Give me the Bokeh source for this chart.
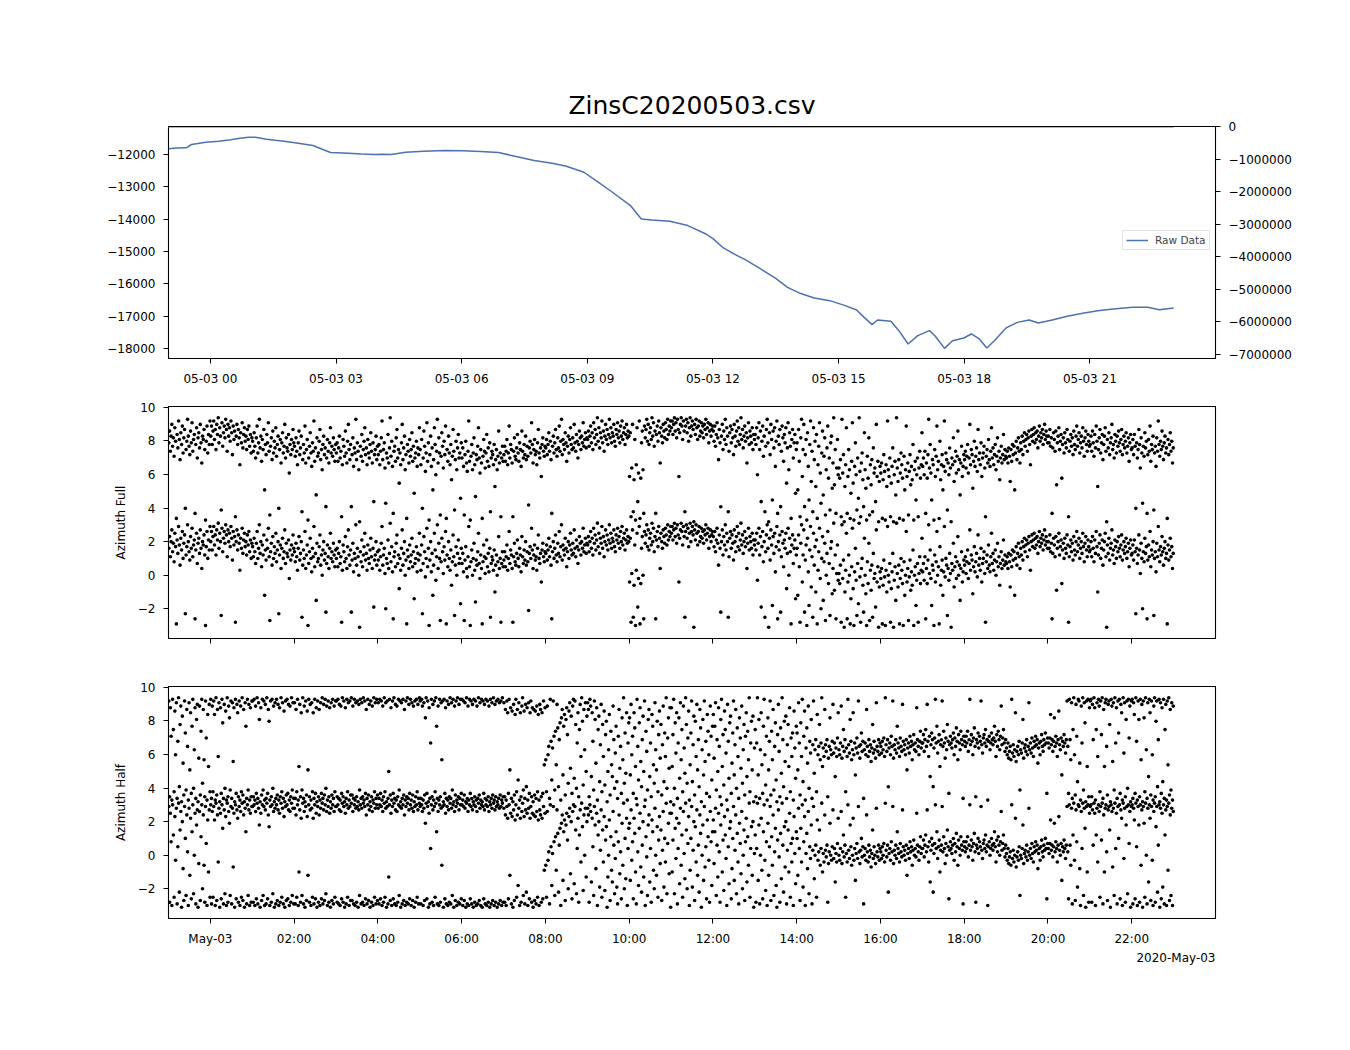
import math
from bokeh.plotting import figure
from bokeh.models import (ColumnDataSource, FixedTicker, Range1d, LinearAxis,
                          Legend, LegendItem, Title)
from bokeh.layouts import column
from bokeh.embed import file_html
from bokeh.resources import INLINE

# ---------------- data ----------------
DAY0_MS = 1588464000000   # 2020-05-03 00:00
HOUR_MS = 3600000

title_text = "ZinsC20200503.csv"
offset_text = "2020-May-03"

# Raw data (hours relative to 2020-05-03 00:00)
raw_hours = [-1.0, -0.8, -0.58, -0.45, -0.3, -0.11, 0.2, 0.49, 0.7, 0.91, 1.08, 1.34, 1.55,
             1.76, 2.1, 2.45, 2.7, 2.87, 3.3, 3.6, 3.9, 4.1, 4.32, 4.66, 5.09, 5.6, 6.03,
             6.45, 6.88, 7.3, 7.73, 8.16, 8.5, 8.92, 9.26, 9.6, 10.03, 10.29, 10.54, 10.97,
             11.4, 11.82, 12.0, 12.23, 12.5, 12.78, 13.14, 13.5, 13.78, 14.06, 14.42, 14.79,
             15.16, 15.43, 15.61, 15.8, 15.93, 16.25, 16.44, 16.66, 16.89, 17.17, 17.3, 17.53,
             17.72, 17.99, 18.17, 18.36, 18.54, 18.72, 19.0, 19.27, 19.55, 19.77, 20.1, 20.46,
             20.83, 21.19, 21.56, 22.02, 22.38, 22.66, 23.0]
raw_values = [-11823, -11800, -11792, -11690, -11660, -11620, -11590, -11545, -11500, -11464,
              -11464, -11526, -11560, -11588, -11650, -11720, -11854, -11938, -11960, -11985,
              -12000, -11990, -12000, -11930, -11898, -11876, -11886, -11907, -11938, -12062,
              -12186, -12269, -12362, -12548, -12857, -13167, -13579, -13992, -14022, -14065,
              -14198, -14450, -14600, -14870, -15075, -15260, -15540, -15830, -16108, -16282,
              -16437, -16520, -16675, -16808, -17037, -17263, -17118, -17161, -17449, -17861,
              -17604, -17449, -17604, -17997, -17759, -17675, -17551, -17706, -17985, -17759,
              -17365, -17192, -17118, -17211, -17118, -17006, -16913, -16830, -16777, -16726,
              -16726, -16799, -16746]

# second series on the right axis (close to zero)
right_hours = [-1.0, 23.0]
right_values = [-30000, -30000]

top_tick_hours = [0, 3, 6, 9, 12, 15, 18, 21]
top_tick_labels = ["05-03 00", "05-03 03", "05-03 06", "05-03 09",
                   "05-03 12", "05-03 15", "05-03 18", "05-03 21"]
bot_tick_hours = [0, 2, 4, 6, 8, 10, 12, 14, 16, 18, 20, 22]
bot_tick_labels = ["May-03", "02:00", "04:00", "06:00", "08:00", "10:00",
                   "12:00", "14:00", "16:00", "18:00", "20:00", "22:00"]
left_ticks = [-12000, -13000, -14000, -15000, -16000, -17000, -18000]
right_ticks = [0, -1000000, -2000000, -3000000, -4000000, -5000000, -6000000, -7000000]
az_ticks = [-2, 0, 2, 4, 6, 8, 10]

# Azimuth Full, one list per hour (first list = 23:00 of May-02)
full_h00 = [1.6, 2.3, 1.1, 2.0, 2.7, 1.4, 1.9, 0.8, 2.5, 1.7, -2.9, 2.1, 1.3, 2.9, 1.8, 0.6, 2.2, 1.5, 2.6, 1.0, 1.9, 2.4, -2.3, 1.2, 1.7, 3.0, 2.0, 1.4, 0.9, 2.3, 1.6, 2.8, 1.1, 1.8, 2.1, -2.6, 1.5, 2.5, 0.7, 1.9, 2.2, 1.3, 2.7, 1.6, 0.4, 2.0, 1.8, 2.4, 1.2, -3.0, 1.7, 2.6, 1.0, 2.1, 1.5, 2.9]
full_h01 = [2.0, 2.6, 1.5, 2.3, 2.9, 1.8, 2.4, 1.2, 2.7, 2.1, 3.1, 1.6, 2.5, 2.0, -2.4, 2.8, 1.4, 2.2, 2.6, 1.9, 3.0, 2.4, 1.1, 2.7, 2.0, 2.5, 1.7, 2.9, 2.2, 0.9, 2.6, 1.8, 2.3, -2.8, 2.0, 2.7, 1.5, 2.4, 1.9, 0.3, 2.2, 1.6, 2.8, 1.3, 2.1, 2.5, 1.7, 2.0, 1.2, 2.4, 1.8, 2.6, 1.4, 2.1, 1.0, 1.9]
full_h02 = [1.7, 1.1, 2.2, 1.4, 0.7, 1.9, 2.6, 1.0, 1.6, 3.0, 1.3, 2.0, 0.5, 1.8, 1.2, 2.4, -1.2, 1.5, 0.9, 2.1, 1.6, 2.8, 1.1, -2.7, 1.4, 1.9, 0.6, 2.3, 1.0, 1.7, 1.3, 2.5, 0.8, 1.5, 2.0, -2.3, 1.2, 1.8, 0.4, 1.6, 2.2, 1.0, 1.4, 2.7, 0.7, 1.9, 1.3, 1.1, 2.1, -0.2, 1.5, 0.9, 1.8, 1.2, 2.4, 1.6]
full_h03 = [1.4, 0.8, 1.9, 1.1, 0.3, 1.6, 2.3, 0.9, 1.3, 2.0, -2.5, 0.6, 1.5, 1.0, 2.6, 0.4, 1.2, 1.8, -3.0, 0.7, 1.4, 2.2, 1.0, 0.2, 1.6, 1.1, 2.9, 0.5, 1.3, -1.5, 1.9, 0.8, 1.0, 1.7, 2.4, 0.6, 1.2, 0.0, 1.5, 2.0, 0.9, 1.3, -2.2, 0.7, 1.8, 1.1, 0.4, 1.6, 2.5, 1.0, 1.4, 0.8, 1.9, 1.2, 0.5, 1.5]
full_h04 = [1.0, 1.6, 0.5, 1.3, 2.0, 0.7, 1.1, -2.8, 0.3, 1.8, 1.4, 0.8, 2.3, 1.0, 0.4, 1.7, 2.7, 1.2, 0.6, 1.5, -2.2, 0.9, 1.9, 0.2, 1.3, 1.0, 3.0, 0.6, 1.6, 1.1, 0.0, -3.1, 1.4, 0.8, 2.1, 0.5, 1.2, 1.7, 2.5, 0.9, 1.3, 0.3, 1.8, 1.0, 0.7, 1.5, 2.2, 1.1, 0.4, 1.6, -1.9, 0.9, 1.2, 2.0, 0.6, 1.4]
full_h05 = [0.9, 1.5, 0.3, 1.1, 1.9, 2.9, 0.6, 1.2, 1.6, 0.1, -2.0, 1.0, 0.7, 2.1, 0.4, 1.3, 3.1, 0.8, 1.7, 0.2, -2.6, 1.1, 1.4, 0.5, 1.9, 2.4, 0.7, 1.2, -0.8, 1.0, 0.3, 1.6, 2.7, 0.6, 1.3, 2.0, 0.0, 0.9, -2.9, 1.5, 1.1, 0.4, 1.8, 0.8, 1.2, 2.2, 0.5, 1.4, -1.4, 0.7, 1.0, 1.7, 0.2, 1.3, 0.9, 2.5]
full_h06 = [1.2, 0.3, 1.8, -2.3, 0.7, 2.3, 1.4, -0.1, 1.0, 2.8, 0.5, 1.6, -3.0, 0.9, 2.0, 0.2, 1.3, -1.2, 0.6, 2.5, 1.5, -0.3, 1.1, 3.0, 0.4, 1.9, 1.0, -2.7, 0.8, 2.2, 1.4, 0.1, 1.7, 0.9, 2.6, -2.9, 1.2, 0.5, 2.0, 1.0, 0.3, 1.5, -0.6, 0.8, 2.4, 1.1, -2.4, 0.6, 1.7, 0.0, 1.3, 2.1, 0.7, 1.0, -1.7, 1.6]
full_h07 = [0.7, 1.3, 0.2, -2.7, 0.9, 1.7, 0.4, -0.1, 1.1, 2.9, 0.5, -3.0, 0.8, 1.5, 0.0, 1.0, 1.9, 0.3, -1.6, 0.9, 0.6, 1.4, 2.5, 0.7, -0.2, 1.2, 0.4, -2.9, 0.8, 1.8, 1.1, 0.1, 1.0, 2.1, 0.5, 1.3, 0.2, 1.6, -2.5, 0.7, 1.1, 0.9, 0.3, 1.5, -1.0, 0.6, 1.2, 0.0, 0.8, 2.3, 0.4, 1.0, -2.8, 0.7, 1.4, 0.5]
full_h08 = [0.9, 1.4, 0.5, 1.1, 1.8, 0.3, 1.0, 2.6, 0.7, 1.5, 1.2, 0.4, -2.8, 1.1, 1.9, 0.8, 0.6, 1.3, 2.1, 1.0, 0.5, 1.6, 1.2, 0.2, 2.3, 1.1, 0.7, 1.5, 0.9, 2.0, 0.6, 1.4, 0.8, -2.1, 1.3, 1.7, 1.0, 2.8, 1.5, 0.4, 1.2, 1.8, 0.9, 1.1, 0.3, 1.6, 2.4, 1.0, 0.7, 1.3, -0.4, 1.5, 1.9, 1.1, 0.8, 1.4]
full_h09 = [1.3, 1.8, 0.9, 1.5, 2.2, 1.1, 1.7, 0.6, -2.6, 1.4, 2.0, 1.0, 1.6, 2.4, 1.2, 0.8, 1.9, 1.3, 2.6, 1.1, 1.7, 3.0, 0.9, 1.8, 1.5, 1.2, 2.2, 1.6, 0.5, 1.4, 2.0, 1.0, 1.8, 2.5, 1.5, 1.2, 1.9, 1.3, 2.7, 1.6, 1.1, 2.1, 1.7, 0.7, 1.5, 2.3, 1.9, 1.2, 2.0, 1.6, 2.8, 1.4, 1.8, 2.2, 1.3, 1.9]
full_h10 = [1.8, 2.3, 1.4, 2.0, 2.6, 1.6, 2.2, 1.2, 2.8, 1.9, 2.4, 1.5, 2.1, 3.1, 1.7, 2.5, 1.3, 2.2, 1.9, 2.9, 1.6, 2.3, 1.1, 2.0, 2.7, 1.8, 2.4, 1.5, 2.1, 3.0, 1.9, 2.5, 1.6, 2.2, 2.0, 2.7, 1.7, 1.4, 2.4, 2.1, 2.8, 1.9, 2.3, 1.6, 2.6, 2.0, 2.9, 1.8, 2.2, 2.5, 1.5, 2.1, 2.7, 1.9, 2.3, 2.0]
full_h11 = [-0.4, 2.2, -2.8, 0.1, 2.7, -2.5, -0.6, 1.8, -3.0, 0.3, 2.5, -1.9, -0.2, 2.9, -2.9, -0.5, 1.6, 2.3, 0.0, -2.6, 2.6, 1.9, 2.4, 3.0, 1.7, 2.7, 1.5, 2.2, 2.5, 1.8, 3.1, 2.0, 2.8, 1.4, 2.3, -2.6, 2.1, 2.6, 1.7, 2.9, 2.2, 0.4, 2.5, 2.0, 1.6, 2.7, 2.3, 1.9, 2.8, 2.4, 1.8, 3.0, 2.1, 2.6, 2.3, 2.9]
full_h12 = [2.5, 2.9, 2.1, 2.7, 3.1, 2.3, 2.8, 1.9, 3.0, 2.4, -0.4, 2.2, 2.7, 3.1, 2.6, 1.8, 2.9, 2.3, -2.5, 2.6, 3.0, 2.2, 2.8, 1.7, 2.5, 3.1, 2.0, 2.6, 2.9, 2.4, -3.1, 2.7, 2.1, 3.0, 2.5, 1.8, 2.6, 2.9, 2.0, 2.3, 2.8, 2.2, 2.6, 1.9, 2.7, 2.4, 3.0, 2.1, 2.5, 2.8, 1.6, 2.3, 2.7, 2.0, 2.4, 2.6]
full_h13 = [2.3, 1.7, 2.6, 1.4, 2.1, 2.8, 1.9, 0.6, 2.4, 1.6, -2.2, 2.0, 2.7, 1.2, 2.3, 1.8, 3.0, 1.5, 2.5, 2.0, -2.5, 1.1, 2.2, 2.6, 1.6, 2.4, 1.9, 0.9, 2.7, 2.0, 1.4, 2.3, 2.9, 1.7, 2.5, 1.5, 2.1, 3.1, 1.8, 2.4, 1.3, 2.0, 2.6, 1.7, 2.2, 0.4, 1.9, 2.8, 1.5, 2.3, 2.0, 1.6, 2.5, 1.2, 2.1, 1.8]
full_h14 = [2.1, 1.5, 2.5, -0.3, 1.9, 2.8, 1.2, 2.3, -1.9, 1.7, 2.6, 0.8, 2.0, -2.5, 1.4, 2.4, 3.0, 1.6, -3.1, 2.2, 0.9, 2.7, 1.8, -1.8, 2.3, 1.3, 2.5, 0.2, 1.7, 2.9, -2.6, 2.0, 1.5, 2.4, -2.2, 1.1, 2.6, 1.9, 0.5, 2.1, 1.6, 2.5, -0.8, 1.3, 2.8, 0.0, 2.2, 1.4, -2.9, 1.8, 2.4, 0.7, 1.6, 2.1, -1.4, 1.2]
full_h15 = [1.6, -1.2, 2.4, 0.5, -2.8, 1.9, 3.0, -0.4, 1.2, 2.7, -2.2, 0.9, 1.8, -3.0, 2.2, 0.2, -1.8, 1.5, 2.9, -0.7, 1.1, -2.5, 2.5, 0.6, 1.7, -1.0, 2.1, -2.9, 0.3, 1.4, 2.8, -0.2, -2.0, 1.0, 2.3, -1.5, 0.8, 1.9, -2.7, 0.0, 1.3, 2.6, -0.5, 0.7, -2.4, 1.6, 2.0, -1.1, 0.4, 3.1, -0.9, 1.2, -2.6, 0.1, 1.8, -0.3]
full_h16 = [0.1, -0.5, 0.6, -2.8, 3.0, -0.2, 0.9, -3.1, -1.0, 0.3, 2.5, -2.6, -0.4, 1.2, 0.0, -2.9, -1.4, 0.5, 2.8, -0.8, -3.0, 0.2, 1.6, -0.3, -2.4, 0.7, -1.7, 3.1, -0.1, -2.8, 0.4, 1.0, -0.6, -2.2, 2.2, 0.0, -1.1, -3.0, 0.8, -0.5, 1.9, -2.7, 0.3, -0.9, 0.6, -2.5, 1.3, -0.2, 0.1, -1.9, 2.7, -0.4, 0.5, -3.1, -0.7, 0.2]
full_h17 = [-0.2, 0.4, -2.9, -0.6, 0.9, -0.1, -3.0, 0.3, -1.0, 2.9, 0.0, -0.4, 0.7, -2.8, -0.8, 0.2, 1.3, -3.1, -0.3, 0.5, -1.5, 3.1, 0.1, -0.7, 0.6, -2.9, -0.2, 1.0, 0.3, -0.5, -3.0, 0.8, -1.2, 0.0, 2.6, -0.4, 0.4, -2.7, -0.1, 0.9, -0.9, 0.2, -0.6, 1.5, -3.0, 0.0, 0.5, -1.8, -0.3, 0.7, -2.8, 0.1, 1.1, -0.5, 0.3, 2.2]
full_h18 = [0.2, 0.7, -0.3, 1.1, -2.6, 0.4, -0.5, 0.9, 3.0, 0.1, 1.5, -0.2, -1.8, 0.6, 0.3, -3.0, 1.2, -0.4, 0.8, 2.6, 0.0, 0.5, -2.9, 1.7, -0.6, 0.3, 0.9, -1.2, 0.2, 2.9, -0.1, 1.0, 0.6, -2.4, 0.4, -0.3, 1.3, 0.1, -3.1, 0.7, 0.3, 1.9, -0.7, 0.5, 1.1, -0.2, 0.8, 2.3, 0.0, 0.6, -1.5, 0.4, 1.4, -0.4, 0.2, 0.9]
full_h19 = [0.6, 1.1, 0.1, 0.8, 1.5, -0.2, 0.7, 2.7, 0.3, 1.2, 0.9, -1.1, 0.5, 1.7, 0.2, 0.8, 1.3, -0.1, 2.4, 0.6, 1.0, 0.3, 1.6, -0.4, 0.7, 1.0, 1.4, 0.1, -2.8, 0.8, 1.2, 0.4, 1.8, 0.6, 0.2, 1.1, 2.5, 0.7, 1.3, 0.3, 0.9, 1.5, 0.0, 0.8, 1.9, 0.5, 1.1, -0.6, 0.7, 1.4, 0.4, 0.9, 2.1, 0.6, 1.2, 0.8]
full_h20 = [0.7, 1.1, 0.4, 1.3, 0.8, -0.7, 1.2, 0.5, 1.5, 0.9, 1.4, -1.2, 1.0, 1.7, 0.6, 1.3, 1.9, 1.1, 0.4, 1.6, 1.2, 2.0, 0.9, 1.7, 2.2, 1.4, 1.8, 2.1, 1.1, 1.9, 2.3, 1.5, 0.3, 2.0, 2.4, 1.7, 2.1, 2.5, 1.6, 2.2, 1.8, 2.3, 1.3, 2.0, 2.6, 1.7, 2.2, 1.9, 2.4, 1.5, 2.1, 2.7, 1.8, 2.3, 2.0, 1.6]
full_h21 = [2.0, 1.6, 2.4, 1.4, 1.9, -2.6, 1.3, 2.2, 1.8, 1.1, 2.3, -0.9, 1.6, 2.0, 2.5, 1.2, 1.7, 2.1, -0.5, 1.5, 1.9, 1.0, 2.2, 1.6, 1.3, 2.4, 1.8, -2.8, 1.1, 1.7, 2.1, 1.4, 1.9, 0.9, 2.3, 1.5, 1.2, 2.0, 2.6, 1.4, 1.8, 2.2, 1.0, 1.6, 2.0, 1.3, 2.5, 1.7, 0.8, 1.9, 2.3, 1.5, 1.1, 2.1, 1.7, 1.4]
full_h22 = [1.5, 2.0, 1.1, 2.3, 1.6, 0.8, 2.1, 1.3, 2.6, 1.7, -1.0, 1.2, 1.9, 2.4, 1.0, 1.6, 2.1, 0.6, 1.5, 2.0, 2.5, 1.1, -3.1, 1.8, 1.3, 2.2, 0.9, 1.6, 1.9, 2.7, 1.2, 1.5, 0.7, 2.1, 1.7, 1.0, 2.0, 1.4, 2.3, 1.6, 1.1, 1.8, 2.4, 0.9, 1.5, 2.0, 1.3, 1.7, 2.2, 1.0, 1.4, 1.9, 0.5, 1.6, 2.1, 1.2]
full_h23 = [1.3, 1.8, 0.9, 2.1, 1.4, -2.3, 1.6, 0.7, 1.2, 2.4, 1.5, 0.1, 1.9, 1.0, -2.0, 1.4, 0.8, 2.2, 1.3, 1.7, -2.6, 0.9, 1.8, 1.1, 2.6, 0.5, 1.5, 1.2, 2.0, -2.4, 1.0, 1.4, 0.2, 1.9, 1.1, 2.9, 1.5, 0.8, 1.7, 1.2, 2.3, 1.4, 0.6, 1.6, 2.0, 1.0, 1.3, -2.9, 1.8, 0.9, 1.5, 2.2, 1.1, 1.7, 0.4, 1.3]

# Azimuth Half, one list per hour
half_h00 = [2.9, -2.8, 2.5, 0.8, -3.0, 3.0, 1.2, -2.5, 2.3, -0.3, 2.8, -2.9, 0.5, 3.1, -2.2, 1.5, 2.6, -3.1, 2.0, -0.8, -2.7, 2.9, 1.0, -2.4, 2.4, 0.2, -3.0, 2.8, -1.2, 2.2, -2.6, 1.4, 3.0, -2.3, 0.0, 2.5, -2.9, 1.8, 2.7, -3.1, -0.5, 2.6, -2.7, 1.1, 3.0, -2.0, 2.4, -0.6, -2.8, 2.9, 0.7, -3.0, 2.1, -1.0, 2.7, -2.5]
half_h01 = [3.0, -2.9, 2.6, -2.5, 2.9, 2.1, -3.0, 3.1, -2.7, 2.4, -0.4, 2.8, -3.1, 2.5, -2.6, 3.0, 1.6, -2.9, 2.7, -2.3, 2.3, -3.0, 3.1, -2.8, 2.6, 1.9, -2.4, 2.9, -2.9, 2.8, -0.7, 2.5, -3.1, 3.0, -2.6, 2.7, 2.2, -2.8, 2.9, -3.0, 2.6, -2.5, 3.1, -2.7, 2.4, -3.1, 2.8, 1.4, -2.9, 3.0, -2.4, 2.7, -3.0, 2.5, -2.8, 2.9]
half_h02 = [2.9, -2.8, 3.0, -3.0, 2.6, -2.6, 3.1, -2.9, 2.8, 1.8, -3.1, 2.5, -2.7, 3.0, -2.4, 2.9, -3.0, 2.7, -2.9, 3.1, -2.6, 2.4, 1.7, -3.0, 2.9, -2.8, 3.0, -2.3, 2.6, -3.1, 2.8, -2.9, 3.0, -2.7, 2.7, -3.0, 2.5, -2.8, 3.1, -2.5, 2.8, -2.9, 2.3, -3.1, 2.9, -2.7, 3.0, -2.6, 2.7, -3.0, 2.6, -2.8, 3.1, -2.4, 2.8, -2.9]
half_h03 = [2.8, -2.9, 2.4, -2.5, 3.0, -3.0, -1.0, 2.7, -2.8, 2.2, -2.4, 3.1, -2.9, 2.6, -3.1, 2.9, -2.7, 2.3, -1.2, 3.0, -2.8, 2.7, -3.0, 2.8, -2.5, 2.2, -2.9, 3.0, -2.6, 2.5, -3.1, 2.9, -2.8, 2.4, -3.0, 2.8, -2.6, 3.1, -2.9, 2.7, -2.7, 3.0, -2.3, 2.6, -3.0, 2.9, -2.8, 2.5, -3.1, 2.8, -2.7, 3.0, -2.9, 2.6, -2.5, 2.9]
half_h04 = [2.9, -2.8, 3.0, -2.9, 2.7, -3.0, 2.6, -2.6, 3.1, -2.8, 2.9, -3.1, 2.5, -2.9, 3.0, -2.5, 2.8, -3.0, 2.9, -2.7, 3.1, -2.7, 2.6, -2.9, 3.0, -3.0, 2.8, -2.8, 2.9, -3.1, 2.7, -2.4, 3.0, -2.9, 2.8, -2.8, 3.1, -3.0, 2.9, -2.6, 2.4, -2.9, 3.0, -2.7, 2.7, -3.1, 2.9, -2.8, 2.6, -3.0, 3.1, -2.5, 2.8, -2.9, 3.0, -2.7]
half_h05 = [2.8, -2.9, 3.0, -2.6, 2.9, -3.0, 2.6, -2.8, 3.1, -2.5, 2.8, -3.1, 2.9, -2.9, -1.3, 3.0, -2.7, 2.5, -3.0, 2.9, -2.6, 3.1, -2.9, 2.7, -3.0, 2.6, -2.8, 3.0, -2.4, 2.9, -3.1, 2.8, -2.9, 3.0, -2.7, 2.4, -3.0, 2.9, -2.8, 3.1, -2.9, 2.7, -2.6, 3.0, -3.0, 2.8, -2.7, 2.6, -3.1, 2.9, -2.8, 3.0, -2.5, 2.7, -2.9, 3.1]
half_h06 = [2.9, -2.9, 3.0, 2.6, -3.0, 2.8, -2.7, 1.9, 3.1, -2.6, 2.9, -3.1, 2.5, -2.9, 0.4, 3.0, -2.8, 2.7, -3.0, 2.9, -2.5, 3.1, 1.4, -2.9, 2.6, -3.0, 3.0, -2.8, 2.8, -0.6, 2.9, -3.1, 3.0, -2.6, 2.5, -2.9, 2.9, -3.0, 2.7, -2.8, 3.1, -2.9, 2.8, -2.4, 3.0, -3.1, 2.6, -2.7, 2.9, -3.0, 3.1, -2.8, 2.7, -2.9, 3.0, -2.6]
half_h07 = [3.0, -3.0, 2.9, -2.7, 2.8, -3.1, 3.1, -2.9, 2.6, -3.0, 3.0, -2.6, 2.9, -2.9, 2.7, -3.1, 3.0, -2.8, 2.9, -3.0, 2.6, -2.9, 3.1, -2.7, 2.8, -3.0, 3.0, -3.1, 2.9, -2.6, 2.7, -2.9, 3.0, -3.0, 2.9, -2.8, 2.6, -3.1, 3.0, -2.9, 2.8, -2.7, 3.1, -3.0, 2.7, -2.8, 2.9, -3.1, 3.0, -2.9, 2.8, -2.7, 2.9, -3.0, 3.1, -2.8]
half_h08 = [2.8, -2.8, 2.4, -3.0, 2.9, 2.2, -2.6, 3.0, -1.2, 2.5, -2.9, 2.3, -3.1, 2.7, -2.7, 2.1, 3.0, -2.5, 2.4, -1.8, 2.8, -3.0, 2.2, -2.8, 2.6, 3.1, -2.4, 2.3, -2.9, 2.7, -2.2, 2.5, -3.0, 2.8, -2.6, 2.2, 2.9, -2.8, 2.5, -3.1, 2.4, -2.7, 2.3, -2.9, 2.6, -2.5, 2.1, -3.0, 2.7, 2.4, -2.8, 2.2, -2.6, 2.9, -0.9, 2.5]
half_h09 = [-0.6, -2.5, 2.6, -0.3, 0.2, -2.9, 3.0, 0.5, -1.8, 0.1, 2.9, 0.8, -2.4, 1.1, -0.9, 2.7, 1.3, -2.2, 0.6, 1.6, -3.0, 1.9, 2.4, -1.5, 1.4, 2.1, -2.7, 1.8, 2.5, 0.9, -2.0, 2.3, 2.8, -1.1, 2.0, -2.6, 2.6, 3.0, -1.7, 2.9, 1.5, -2.3, 0.4, 2.2, -2.8, 1.2, 2.7, -0.4, 3.1, 1.7, -2.1, 2.4, 0.0, 2.8, -1.3, 2.0]
half_h10 = [2.8, 2.4, -2.8, 3.0, 2.6, -1.6, 2.2, 0.5, -2.4, 2.9, 1.8, -0.8, 2.5, -3.0, 1.2, 2.0, -1.9, 0.3, 2.7, -2.5, 1.5, -0.4, 2.3, -2.1, 0.9, 1.7, -3.1, -1.3, 0.0, 2.1, -2.7, 1.1, -0.9, -1.6, 2.6, 0.6, -2.3, -0.2, 1.4, -1.9, -2.9, 0.8, 2.4, -1.1, 0.2, -2.6, 1.9, -0.6, 3.1, -2.0, 1.0, -1.4, 2.2, -3.0, 0.4, 1.6]
half_h11 = [1.9, -1.5, 2.7, -0.3, 0.8, -2.6, 2.2, 1.3, -1.0, -2.9, 3.0, 0.2, -1.8, 1.6, 2.5, -0.7, -2.2, 0.6, 2.0, -1.3, 2.9, -3.0, 1.1, -0.1, -2.4, 1.8, 2.4, -1.6, 0.4, -2.8, 2.1, 1.4, -0.9, -2.0, 2.8, 0.0, -1.2, 1.7, -2.5, 0.9, 2.3, -0.5, 1.5, -2.7, 0.3, 2.6, -1.9, 1.0, -0.4, 3.1, -2.3, 0.7, 1.9, -1.1, 2.5, -3.1]
half_h12 = [2.5, -1.0, 0.9, 3.0, -2.3, 1.6, -0.2, 2.2, -2.9, 0.4, 1.9, -1.7, 2.8, -0.6, 1.2, -2.5, 2.6, 0.1, -1.4, 3.1, 1.5, -2.0, 0.7, 2.3, -3.0, -0.9, 1.0, 2.9, -1.9, 0.3, 2.0, -2.7, 1.7, -0.4, 2.7, -1.2, 0.6, -2.2, 2.4, 1.3, -3.1, 0.0, 1.8, -1.5, 2.9, -0.7, 0.5, -2.6, 2.1, 1.1, -0.3, -2.8, 2.6, 0.8, -1.8, 1.4]
half_h13 = [2.1, -0.5, 1.4, 2.8, -2.4, 0.6, -1.3, 2.5, 0.2, -2.8, 1.8, 3.0, -1.0, 0.9, -2.1, 2.3, 1.2, -0.2, -3.0, 2.7, 0.5, -1.7, 1.6, 2.0, -2.6, -0.8, 1.0, 2.9, -1.5, 0.3, 2.4, -2.3, 1.3, -0.4, -2.9, 1.9, 0.7, -1.1, 2.6, -2.0, 0.0, 1.5, -2.7, 0.8, 2.2, -1.6, 1.1, -0.6, 3.1, -2.5, 0.4, 1.7, -1.2, 2.0, -3.1, 0.1]
half_h14 = [1.2, -2.8, 0.4, 3.1, -1.5, 1.8, -2.9, 0.0, 2.2, -0.9, -2.6, 1.4, 3.0, -0.3, -2.1, 0.8, -3.0, 1.9, -1.2, 0.5, 2.9, -2.7, 1.1, -0.6, 2.4, -2.4, 0.2, 1.6, -1.8, -3.1, 0.9, 2.7, -0.1, -2.8, 1.3, -1.4, 3.1, 0.6, -2.2, 1.7, -0.7, 2.0, -2.9, 0.3, 1.5, -1.0, 2.5, -2.5, 0.7, -0.4, 1.0, -3.0, 2.3, 0.1, -1.7, 1.4]
half_h15 = [1.0, -1.2, 2.8, 0.4, -2.7, 1.6, -0.4, 3.0, -1.9, 0.8, 2.3, -3.0, 0.1, 1.3, -0.8, 2.6, -2.3, 0.5, -0.2, 1.8, -2.9, 0.3, 2.9, -1.4, 0.0, 0.6, -2.5, 2.1, -0.3, 0.2, 1.5, -0.6, 0.4, 3.1, -1.0, 0.1, -0.4, 2.4, 0.3, -0.1, 0.6, -2.8, -0.5, 0.2, 1.9, 0.0, -0.3, 0.5, 2.7, -0.2, 0.4, -1.6, 0.1, -0.4, 0.7, 2.2]
half_h16 = [0.0, -0.3, 0.4, 2.6, -0.5, 0.2, 1.2, -0.1, 0.6, -2.5, 0.1, -0.4, 3.0, 0.3, -0.2, 1.8, 0.5, -0.6, 0.0, 2.2, -0.3, 0.4, -1.5, 0.1, 0.7, -0.2, 2.9, 0.2, -0.5, 0.3, 1.0, -0.1, 0.5, -2.9, 0.0, 0.4, -0.3, 2.4, 0.2, -0.4, 0.6, -0.1, 0.3, -0.7, 0.1, 1.5, -0.2, 0.5, 0.0, -0.5, 2.8, 0.2, -0.1, 0.6, -0.3, 0.4]
half_h17 = [0.2, -0.2, 0.5, 0.0, 0.7, -0.4, 3.1, 0.3, -0.1, 0.6, -2.2, 0.1, 0.4, -0.3, 0.8, 0.2, 2.9, -0.5, 0.3, 0.0, 0.6, -0.2, 1.4, 0.4, 0.1, -0.4, 0.7, 0.2, -0.1, 2.7, 0.5, 0.0, 0.3, -0.3, 0.6, -1.2, 0.1, 0.4, -0.2, 0.8, 0.2, 0.5, -0.6, 0.3, 0.9, 0.0, 0.4, -0.1, 2.5, 0.6, 0.2, -0.3, 0.5, 1.1, 0.1, 0.4]
half_h18 = [0.4, 0.9, -0.1, 0.6, 1.2, 0.2, 2.7, 0.5, -0.4, 0.8, -1.6, 0.3, 1.0, 0.6, -2.2, 0.1, 0.7, 3.0, 0.4, 1.4, -0.2, 0.5, 0.9, -1.0, 0.3, 0.6, 2.9, 0.2, 1.1, 0.4, -0.5, 0.7, 0.0, 1.5, 0.5, -2.6, 0.3, 0.8, 0.4, 0.1, 0.6, 1.0, -0.3, 0.7, 0.2, 1.3, 0.5, -0.6, 0.9, 0.4, 0.0, 1.1, 0.6, 0.3, -2.9, 0.8]
half_h19 = [0.5, 0.2, 0.8, 0.4, 1.1, -0.1, 0.6, 3.0, 0.3, 0.9, 0.5, -0.3, 0.7, 1.3, 0.2, -2.8, 0.6, 0.4, 1.0, 0.1, 0.8, 0.5, 2.9, 0.3, -0.2, 0.7, 0.9, 0.4, 1.2, 0.2, 0.6, -3.0, 0.5, 0.8, 0.0, 0.4, 1.0, 0.6, 0.3, 0.7, 1.4, 0.5, -0.4, 0.9, 0.2, 1.1, 0.6, 0.0, 0.8, 2.6, 0.3, 0.7, 1.2, 0.4, -0.1, 0.6]
half_h20 = [0.1, -0.3, 0.4, -0.5, -0.1, 0.2, -0.6, 3.0, -0.2, 0.3, -0.4, 0.0, 2.2, -0.7, -0.1, 0.2, -0.3, 0.5, -2.4, 0.0, -0.2, 0.4, 1.8, -0.5, 0.1, 0.3, -0.1, 0.6, -0.3, 0.2, 2.8, 0.0, 0.4, -0.2, 0.7, 0.1, -0.4, 0.5, 0.2, 0.8, 0.3, 0.6, -0.8, 0.1, 0.4, -0.3, 0.5, 0.9, 0.2, -0.1, 0.6, 0.3, 1.0, 0.4, -2.6, 0.7]
half_h21 = [0.4, 0.1, 0.7, 2.1, 0.3, 0.6, -0.1, 0.5, 1.9, 0.2, 0.8, 0.4, -0.4, 0.6, 2.3, 0.3, 0.0, 0.7, -1.5, 0.5, 0.2, 0.9, 0.4, -0.2, 0.6, 2.9, 0.2, -2.6, 3.0, 0.6, -0.6, 2.8, -2.9, 1.2, 3.1, -0.3, -2.7, 2.7, 0.8, -1.9, 3.0, 2.9, -0.8, -3.0, 2.6, 0.4, 3.1, -2.4, 2.8, 1.6, -3.1, 2.9, -1.0, 3.0, -2.8, 2.5]
half_h22 = [2.9, 3.0, -2.8, 2.7, 0.6, 3.1, 2.5, -3.0, 1.2, 2.8, -0.4, 3.0, 2.6, -2.5, 2.9, 0.9, 3.1, -2.9, 2.4, -1.0, 2.8, 3.0, 0.2, -2.7, 2.7, 2.9, 1.5, -3.1, 3.0, 2.6, -0.7, 2.8, -2.4, 3.1, 0.4, 2.5, -2.9, 2.9, 1.0, 3.0, -2.6, 2.7, 2.2, -3.0, 3.1, -0.2, 2.8, -2.8, 1.8, 2.9, -2.3, 3.0, 0.7, 2.6, -3.1, 2.9]
half_h23 = [3.0, -2.9, 2.8, 2.1, -2.6, 3.1, 0.5, -3.0, 2.9, 1.8, -2.8, 3.0, -0.6, 2.7, -3.1, 2.9, 1.9, -2.5, 3.1, 0.0, -2.9, 2.8, -1.6, 3.0, 2.2, -2.7, 2.9, -0.3, -3.0, 2.6, 3.1, -2.8, 1.7, 2.9, -2.2, 0.6, 3.0, -3.1, 2.8, -2.6, 2.5, -1.9, 3.0, -2.9, 1.2, 2.7, -3.0, 2.9, -0.9, 3.1, -2.7, 2.4, -2.4, 2.8, -3.0, 2.6]

full_hours = [full_h00, full_h01, full_h02, full_h03, full_h04, full_h05, full_h06, full_h07,
              full_h08, full_h09, full_h10, full_h11, full_h12, full_h13, full_h14, full_h15,
              full_h16, full_h17, full_h18, full_h19, full_h20, full_h21, full_h22, full_h23]
half_hours = [half_h00, half_h01, half_h02, half_h03, half_h04, half_h05, half_h06, half_h07,
              half_h08, half_h09, half_h10, half_h11, half_h12, half_h13, half_h14, half_h15,
              half_h16, half_h17, half_h18, half_h19, half_h20, half_h21, half_h22, half_h23]

# ---------------- helpers ----------------
FONT = "DejaVu Sans"
FS = "12px"
LINE_COLOR = "#4c72b0"


def ms(h):
    return DAY0_MS + h * HOUR_MS


def minus(v):
    return str(v).replace("-", "\u2212")


def build_scatter(hour_lists):
    xs, ys = [], []
    for k, vals in enumerate(hour_lists):
        n = len(vals)
        for i, v in enumerate(vals):
            t = ms(k - 1 + (i + 0.5) / n)
            xs.append(t)
            ys.append(v)
            xs.append(t)
            ys.append(v + 2 * math.pi)
    return ColumnDataSource(dict(x=xs, y=ys))


def style_fig(p):
    p.outline_line_color = "black"
    p.outline_line_width = 1.1
    p.xgrid.visible = False
    p.ygrid.visible = False
    p.background_fill_color = "white"
    p.border_fill_color = "white"


def style_axis(ax, standoff):
    ax.axis_line_color = None
    ax.major_tick_line_color = "black"
    ax.major_tick_line_width = 1
    ax.major_tick_out = 5
    ax.major_tick_in = 0
    ax.minor_tick_line_color = None
    ax.major_label_text_font = FONT
    ax.major_label_text_font_size = FS
    ax.major_label_text_color = "black"
    ax.major_label_standoff = standoff
    ax.axis_label_text_font = FONT
    ax.axis_label_text_font_size = FS
    ax.axis_label_text_font_style = "normal"
    ax.axis_label_text_color = "black"
    ax.axis_label_standoff = 7


W = 1338
LB, RB = 168, 123
x_range = Range1d(ms(-1), ms(24))
top_tick_ms = [ms(h) for h in top_tick_hours]
bot_tick_ms = [ms(h) for h in bot_tick_hours]

# ---------------- top panel ----------------
p1 = figure(width=W, height=390, x_axis_type="datetime", x_range=x_range,
            y_range=Range1d(-18310, -11133), output_backend="svg", toolbar_location=None,
            min_border_left=LB, min_border_right=RB, min_border_top=126, min_border_bottom=32)
style_fig(p1)
p1.extra_y_ranges = {"right": Range1d(-7122800, 0)}
rax = LinearAxis(y_range_name="right")
p1.add_layout(rax, "right")

raw_src = ColumnDataSource(dict(x=[ms(h) for h in raw_hours], y=raw_values))
right_src = ColumnDataSource(dict(x=[ms(h) for h in right_hours], y=right_values))
p1.line("x", "y", source=right_src, y_range_name="right", line_color="#9fb4d6", line_width=1)
raw_r = p1.line("x", "y", source=raw_src, line_color=LINE_COLOR, line_width=1.5)

style_axis(p1.xaxis[0], 8)
style_axis(p1.yaxis[0], 8)
style_axis(rax, 8)
p1.xaxis.ticker = FixedTicker(ticks=top_tick_ms)
p1.xaxis.major_label_overrides = {t: lab for t, lab in zip(top_tick_ms, top_tick_labels)}
p1.yaxis[0].ticker = FixedTicker(ticks=left_ticks)
p1.yaxis[0].major_label_overrides = {v: minus(v) for v in left_ticks}
rax.ticker = FixedTicker(ticks=right_ticks)
rax.major_label_overrides = {v: minus(v) for v in right_ticks}

p1.title.text = title_text
p1.title.align = "center"
p1.title.text_font = FONT
p1.title.text_font_size = "25px"
p1.title.text_font_style = "normal"
p1.title.text_color = "black"
p1.title.standoff = 14

legend = Legend(items=[LegendItem(label="Raw Data", renderers=[raw_r])],
                location=(954, 108), orientation="vertical",
                label_text_font=FONT, label_text_font_size="10.5px",
                glyph_width=22, glyph_height=10, label_height=10,
                label_standoff=7, padding=3, margin=0, spacing=0,
                border_line_color="#cccccc", border_line_width=1,
                background_fill_color="white", background_fill_alpha=0.9)
p1.add_layout(legend)

# ---------------- middle panel ----------------
p2 = figure(width=W, height=280, x_axis_type="datetime", x_range=x_range,
            y_range=Range1d(-3.77, 10.05), output_backend="svg", toolbar_location=None,
            min_border_left=LB, min_border_right=RB, min_border_top=16, min_border_bottom=32)
style_fig(p2)
p2.scatter("x", "y", source=build_scatter(full_hours), size=3.6,
           fill_color="black", line_color=None)
style_axis(p2.xaxis[0], 8)
style_axis(p2.yaxis[0], 8)
p2.xaxis.ticker = FixedTicker(ticks=bot_tick_ms)
p2.xaxis.major_label_text_alpha = 0
p2.yaxis.ticker = FixedTicker(ticks=az_ticks)
p2.yaxis.major_label_overrides = {v: minus(v) for v in az_ticks}
p2.yaxis.axis_label = "Azimuth Full"

# ---------------- bottom panel ----------------
p3 = figure(width=W, height=330, x_axis_type="datetime", x_range=x_range,
            y_range=Range1d(-3.77, 10.05), output_backend="svg", toolbar_location=None,
            min_border_left=LB, min_border_right=RB, min_border_top=16, min_border_bottom=82)
style_fig(p3)
p3.scatter("x", "y", source=build_scatter(half_hours), size=3.6,
           fill_color="black", line_color=None)
style_axis(p3.xaxis[0], 8)
style_axis(p3.yaxis[0], 8)
p3.xaxis.ticker = FixedTicker(ticks=bot_tick_ms)
p3.xaxis.major_label_overrides = {t: lab for t, lab in zip(bot_tick_ms, bot_tick_labels)}
p3.yaxis.ticker = FixedTicker(ticks=az_ticks)
p3.yaxis.major_label_overrides = {v: minus(v) for v in az_ticks}
p3.yaxis.axis_label = "Azimuth Half"
p3.add_layout(Title(text=offset_text, align="right", text_font=FONT, text_font_size=FS,
                    text_font_style="normal", text_color="black", standoff=0), "below")

layout = column(p1, p2, p3, spacing=0)
open("out.html", "w").write(file_html(layout, INLINE, title=title_text))
